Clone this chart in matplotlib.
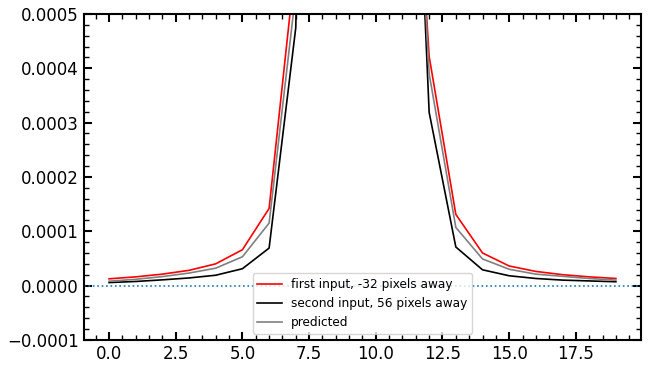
import matplotlib
matplotlib.use("Agg")
import matplotlib.pyplot as plt
from matplotlib.ticker import AutoMinorLocator

# значения по пикселям
x = list(range(20))
first = [1.24e-5, 1.6e-5, 2.1e-5, 2.8e-5, 4.0e-5, 6.6e-5, 1.42e-4, 6.0e-4, 2.5e-3, 6.0e-3,
         6.5e-3, 1.2e-3, 4.22e-4, 1.31e-4, 6.0e-5, 3.6e-5, 2.6e-5, 2.0e-5, 1.6e-5, 1.3e-5]
second = [0.55e-5, 0.75e-5, 1.05e-5, 1.4e-5, 1.9e-5, 3.1e-5, 6.9e-5, 4.75e-4, 3.0e-3, 7.0e-3,
          7.0e-3, 1.45e-3, 3.19e-4, 7.1e-5, 2.9e-5, 1.8e-5, 1.3e-5, 1.0e-5, 0.85e-5, 0.7e-5]
predicted = [0.8e-5, 1.15e-5, 1.65e-5, 2.3e-5, 3.2e-5, 5.3e-5, 1.15e-4, 5.4e-4, 2.7e-3, 6.5e-3,
             6.7e-3, 1.3e-3, 3.9e-4, 1.07e-4, 4.9e-5, 3.0e-5, 2.1e-5, 1.7e-5, 1.3e-5, 1.0e-5]

fig = plt.figure(figsize=(6.49, 3.69), dpi=100)
ax = fig.add_axes([0.129, 0.079, 0.859, 0.883])

ax.plot(x, first, color="red", lw=1.2, label="first input, -32 pixels away")
ax.plot(x, second, color="black", lw=1.2, label="second input, 56 pixels away")
ax.plot(x, predicted, color="grey", lw=1.2, label="predicted")
ax.axhline(0, color="tab:blue", ls=":", lw=1.2)

ax.set_ylim(-0.0001, 0.0005)
ax.set_xlim(-0.95, 19.95)
ax.set_yticks([-0.0001, 0, 0.0001, 0.0002, 0.0003, 0.0004, 0.0005])
ax.set_yticklabels(["\u22120.0001", "0.0000", "0.0001", "0.0002", "0.0003", "0.0004", "0.0005"])
ax.xaxis.set_minor_locator(AutoMinorLocator(5))
ax.yaxis.set_minor_locator(AutoMinorLocator(5))
ax.tick_params(which="both", direction="in", top=True, right=True, labelsize=12)
ax.tick_params(which="major", length=6, width=1.5)
ax.tick_params(which="minor", length=3.5, width=1)
for s in ax.spines.values():
    s.set_linewidth(1.5)

ax.legend(loc="lower center", fontsize=8.7)

fig.savefig("out.png", dpi=100)
